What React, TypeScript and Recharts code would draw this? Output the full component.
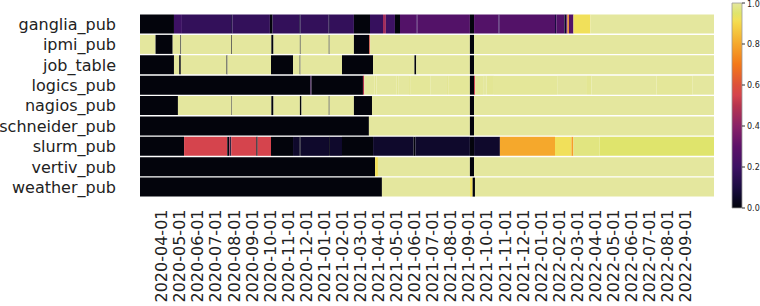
import React from "react";
import { BarChart, Bar, XAxis, YAxis, Cell } from "recharts";

const tables = [
  "ganglia_pub", "ipmi_pub", "job_table", "logics_pub", "nagios_pub",
  "schneider_pub", "slurm_pub", "vertiv_pub", "weather_pub",
];

const monthLabels = [
  "2020-04-01", "2020-05-01", "2020-06-01", "2020-07-01", "2020-08-01", "2020-09-01",
  "2020-10-01", "2020-11-01", "2020-12-01", "2021-01-01", "2021-02-01", "2021-03-01",
  "2021-04-01", "2021-05-01", "2021-06-01", "2021-07-01", "2021-08-01", "2021-09-01",
  "2021-10-01", "2021-11-01", "2021-12-01", "2022-01-01", "2022-02-01", "2022-03-01",
  "2022-04-01", "2022-05-01", "2022-06-01", "2022-07-01", "2022-08-01", "2022-09-01",
];

// data starts this many months before 2020-04-01 and ends at LAST (months after 2020-04-01)
const FIRST = -1.19;
const LAST = 30.58;

// each segment: [end, fraction], end in months after 2020-04-01
const ganglia: [number, number][] = [
  [0.69, 0], [1.13, 0.2], [3.85, 0.17], [3.92, 0.1], [6.0, 0.17], [6.15, 0], [7.62, 0.17],
  [7.7, 0.1], [9.25, 0.17], [9.32, 0.1], [10.65, 0.17], [11.54, 0], [12.26, 0.18],
  [12.42, 0.45], [12.92, 0.2], [13.2, 0], [14.1, 0.27], [14.16, 0.22], [17.07, 0.27],
  [17.3, 0], [18.65, 0.27], [18.72, 0.2], [21.78, 0.27], [21.85, 0.1], [22.3, 0.27],
  [22.4, 0.05], [22.47, 0.27], [22.55, 0.75], [22.8, 0.27], [23.74, 0.92], [LAST, 1],
];
const ipmi: [number, number][] = [
  [-0.33, 1], [0.62, 0], [1.05, 1], [1.09, 0], [3.85, 1], [3.89, 0], [6.08, 1], [6.2, 0],
  [7.66, 1], [7.7, 0], [9.26, 1], [9.3, 0], [10.65, 1], [11.5, 0], [11.55, 0.6],
  [17.07, 1], [17.3, 0], [LAST, 1],
];
const jobTable: [number, number][] = [
  [0.69, 0], [0.98, 1], [1.07, 0], [3.6, 1], [3.65, 0], [6.06, 1], [7.28, 0], [7.65, 1],
  [7.69, 0], [9.99, 1], [11.71, 0], [14.0, 1], [14.1, 0], [17.07, 1], [17.3, 0], [LAST, 1],
];
const logics: [number, number][] = [
  [8.25, 0], [8.3, 0.25], [11.15, 0], [11.22, 0.5], [11.8, 1], [11.9, 0.99], [13.0, 1],
  [13.1, 0.99], [13.7, 1], [13.8, 0.99], [14.9, 0.995], [15.8, 1], [15.9, 0.99], [17.07, 0.995],
  [17.3, 0], [17.36, 0.55], [17.8, 0.995], [18.0, 1], [18.4, 0.99], [21.9, 0.995], [23.5, 1],
  [23.8, 0.99], [27.4, 1], [29.4, 0.995], [LAST, 1],
];
const nagios: [number, number][] = [
  [0.91, 0], [3.88, 1], [3.91, 0], [6.08, 1], [6.2, 0], [7.66, 1], [7.75, 0], [9.26, 1],
  [9.3, 0], [10.65, 1], [11.65, 0], [17.07, 1], [17.3, 0], [LAST, 1],
];
const schneider: [number, number][] = [
  [11.48, 0], [17.07, 1], [17.3, 0], [LAST, 1],
];
const slurm: [number, number][] = [
  [1.25, 0], [3.64, 0.55], [3.75, 0], [3.8, 0.45], [3.86, 0.05], [5.25, 0.55], [5.32, 0],
  [6.06, 0.55], [7.28, 0], [7.65, 0.06], [7.7, 0.01], [9.27, 0.06], [9.32, 0.01], [9.99, 0.06],
  [11.71, 0], [13.95, 0.06], [14.05, 0], [17.07, 0.06], [17.3, 0], [18.73, 0.06],
  [21.78, 0.8], [22.69, 0.92], [22.8, 0.78], [24.24, 0.97], [LAST, 0.95],
];
const vertiv: [number, number][] = [
  [11.82, 0], [11.98, 0.92], [17.07, 1], [17.3, 0], [LAST, 1],
];
const weather: [number, number][] = [
  [12.2, 0], [17.08, 1], [17.22, 0.92], [17.35, 0], [LAST, 1],
];

const segments = [ganglia, ipmi, jobTable, logics, nagios, schneider, slurm, vertiv, weather];

// inferno-like colour map as it shows in the picture
const stops: [number, string][] = [
  [0, "#03040c"], [0.05, "#0c0827"], [0.1, "#1b0c41"], [0.2, "#3d1164"], [0.3, "#5d1269"],
  [0.4, "#8a2267"], [0.5, "#b7354f"], [0.55, "#d5444d"], [0.6, "#dd513a"], [0.7, "#f37819"],
  [0.8, "#f5a82c"], [0.9, "#f4d84c"], [0.92, "#f1e05a"], [0.95, "#dfe46c"], [1, "#e4e79e"],
];

const hex = (c: string) => [1, 3, 5].map(i => parseInt(c.slice(i, i + 2), 16));
function colorOf(v: number) {
  for (let i = 1; i < stops.length; i++) {
    const [v1, c1] = stops[i];
    if (v <= v1) {
      const [v0, c0] = stops[i - 1];
      const t = (v - v0) / (v1 - v0);
      const a = hex(c0), b = hex(c1);
      return `rgb(${a.map((x, k) => Math.round(x + (b[k] - x) * t)).join(",")})`;
    }
  }
  return stops[stops.length - 1][1];
}

const maxSegs = Math.max(...segments.map(s => s.length));

const rows = tables.map((name, r) => {
  const row: Record<string, any> = { name };
  let prev = FIRST;
  for (let k = 0; k < maxSegs; k++) {
    const seg = segments[r][k];
    row[`s${k}`] = seg ? seg[0] - prev : 0;
    if (seg) prev = seg[0];
  }
  return row;
});

const font = "DejaVu Sans, sans-serif";

const MonthTick = ({ x, y, payload }: any) => (
  <text
    x={0}
    y={0}
    transform={`translate(${x},${y}) rotate(-90)`}
    textAnchor="end"
    dy="0.36em"
    fontSize={16}
    fill="#222"
    fontFamily={font}
  >
    {monthLabels[payload.index]}
  </text>
);

export default function App() {
  return (
    <div style={{ position: "absolute", left: 0, top: 0, width: 760, height: 306 }}>
      <div style={{ position: "absolute", left: 0, top: 0 }}>
        <BarChart
          width={760}
          height={306}
          data={rows}
          layout="vertical"
          barCategoryGap={0.5}
          margin={{ top: 14, right: 46, left: 0, bottom: 0 }}
        >
          <XAxis
            type="number"
            domain={[0, LAST - FIRST]}
            ticks={monthLabels.map((_, i) => i - FIRST)}
            interval={0}
            height={108.5}
            axisLine={false}
            tickLine={false}
            tickSize={0}
            tickMargin={12}
            tick={<MonthTick />}
          />
          <YAxis
            type="category"
            dataKey="name"
            width={140}
            axisLine={false}
            tickLine={false}
            tickSize={0}
            tickMargin={24}
            interval={0}
            tick={{ fontSize: 16, fill: "#222", fontFamily: font }}
          />
          {Array.from({ length: maxSegs }, (_, k) => (
            <Bar key={k} dataKey={`s${k}`} stackId="t" isAnimationActive={false}>
              {rows.map((_, r) => {
                const seg = segments[r][k];
                return <Cell key={r} fill={seg ? colorOf(seg[1]) : "none"} />;
              })}
            </Bar>
          ))}
        </BarChart>
      </div>
      <div style={{ position: "absolute", left: 730, top: 0 }}>
        <BarChart
          width={40}
          height={306}
          data={[{ v: 1 }]}
          barCategoryGap={0}
          margin={{ top: 3, right: 0, left: 2, bottom: 98 }}
        >
          <defs>
            <linearGradient id="cmap" x1="0" y1="1" x2="0" y2="0">
              {stops.map(([v, c]) => (
                <stop key={v} offset={v} stopColor={c} />
              ))}
            </linearGradient>
          </defs>
          <XAxis type="category" hide />
          <YAxis
            orientation="right"
            type="number"
            domain={[0, 1]}
            ticks={[0, 0.2, 0.4, 0.6, 0.8, 1]}
            width={28}
            axisLine={false}
            tickSize={3}
            tickMargin={2}
            tickLine={{ stroke: "#333" }}
            tickFormatter={(v: number) => v.toFixed(1)}
            tick={{ fontSize: 8, fill: "#222", fontFamily: font }}
          />
          <Bar dataKey="v" fill="url(#cmap)" stroke="#999" strokeWidth={0.8} isAnimationActive={false} />
        </BarChart>
      </div>
    </div>
  );
}
